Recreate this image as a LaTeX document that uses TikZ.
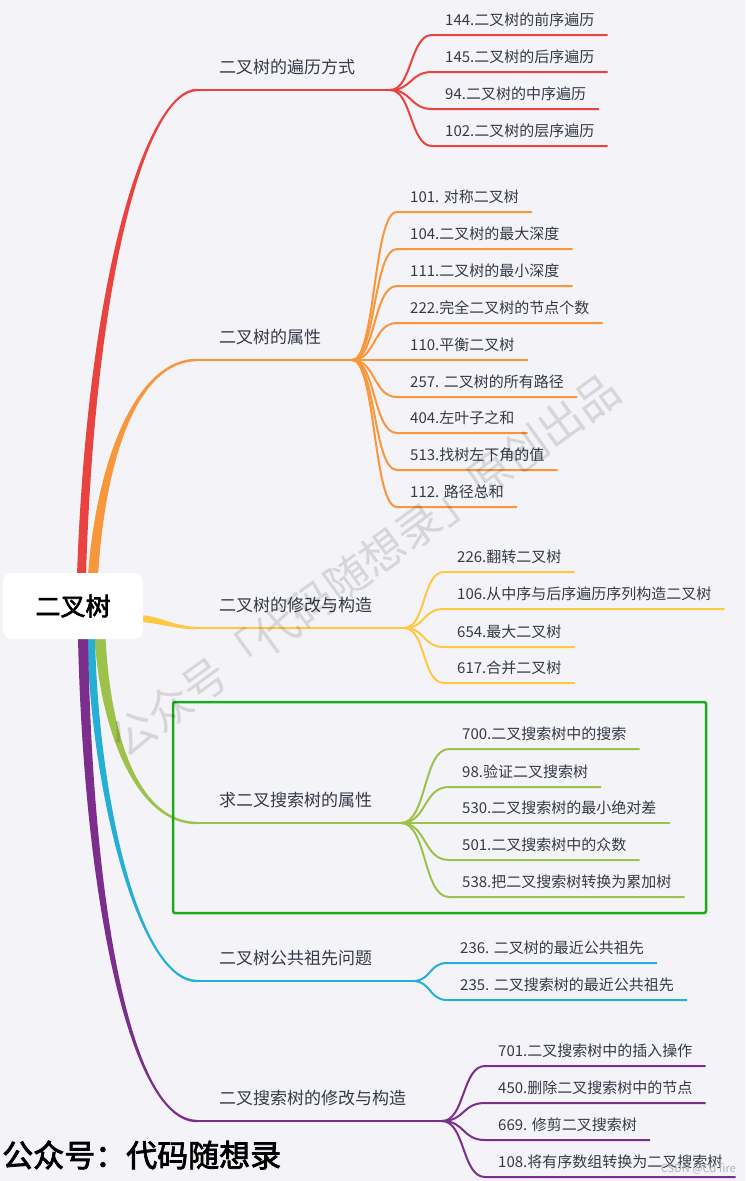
\documentclass[tikz,border=0pt]{standalone}
\usepackage{fontspec}
\setmainfont{Noto Sans CJK SC}
\newfontfamily\heavy{Noto Sans CJK SC}[FakeBold=2.5]
\usetikzlibrary{calc}

\definecolor{bgcol}{HTML}{F4F4F8}
\definecolor{txt}{HTML}{343A46}
\definecolor{cred}{HTML}{E8433E}
\definecolor{corange}{HTML}{F7963B}
\definecolor{cyellow}{HTML}{FFC843}
\definecolor{cgreen}{HTML}{9DC24B}
\definecolor{ccyan}{HTML}{26AFD5}
\definecolor{cpurple}{HTML}{7B2E8C}
\definecolor{boxgreen}{HTML}{1DAA1D}

\pgfdeclarelayer{bg}
\pgfsetlayers{bg,main}

% tapered main branch: colour, start, control 1, control 2, end, half width, side
\newcommand\trunk[7]{%
  \fill[#1] ($(#2)+(-#6,0)$) .. controls ($(#3)+(-0.85*#6,0)$) and ($(#4)+(0,-1.6*#7)$) .. ($(#5)+(0,-1.2*#7)$)
    -- ($(#5)+(0,1.2*#7)$) .. controls ($(#4)+(0,1.6*#7)$) and ($(#3)+(0.85*#6,0)$) .. ($(#2)+(#6,0)$) -- cycle;}

\begin{document}
\begin{tikzpicture}[x=1pt,y=-1pt,
    rootbox/.style={fill=white, rounded corners=9pt, minimum width=140pt, minimum height=66pt,
      font=\heavy\fontsize{25}{25}\selectfont, text=black},
    branch/.style={anchor=south west, inner xsep=22pt, inner ysep=14pt, text height=14pt,
      text depth=2pt, text=txt, font=\fontsize{17}{17}\selectfont},
    leaf/.style={anchor=south west, inner xsep=13pt, inner ysep=7pt, text height=12pt,
      text depth=2pt, text=txt, font=\fontsize{15}{15}\selectfont},
    twig/.style={line width=2pt},
    stem/.style={line width=2.4pt}]
	\useasboundingbox (0,0) rectangle (745,1181);
	\node[rootbox] (root) at (73,606) {二叉树};
	% first level
	\node[branch] (b1) at (197,90) {二叉树的遍历方式};
	\node[branch] (b2) at (197,360) {二叉树的属性};
	\node[branch] (b3) at (197,628) {二叉树的修改与构造};
	\node[branch] (b4) at (197,823) {求二叉搜索树的属性};
	\node[branch] (b5) at (197,981) {二叉树公共祖先问题};
	\node[branch] (b6) at (197,1121) {二叉搜索树的修改与构造};
	\coordinate (h1) at (390,90);
	\coordinate (h2) at (352,360);
	\coordinate (h3) at (404,628);
	\coordinate (h4) at (401,823);
	\coordinate (h5) at (413,981);
	\coordinate (h6) at (442,1121);
	\begin{pgfonlayer}{bg}
		\fill[bgcol] (0,0) rectangle (745,1181);
		\trunk{cgreen}{$(root.south)+(27,-2)$}{106,740}{140,823}{b4.south west}{5.5}{-1}
		\trunk{ccyan}{$(root.south)+(18,-2)$}{95,800}{140,981}{b5.south west}{4}{-1}
		\trunk{cpurple}{$(root.south)+(10,-2)$}{88,900}{130,1121}{b6.south west}{5}{-1}
		\trunk{corange}{$(root.north)+(20,2)$}{102,450}{140,360}{b2.south west}{5}{1}
		\trunk{cred}{$(root.north)+(8.5,2)$}{92,260}{150,90}{b1.south west}{4.5}{1}
		\fill[cyellow] ($(root.east)+(-3,9)$) .. controls (160,616) and (175,626.8) .. ($(b3.south west)+(0,-1.2)$)
			-- ($(b3.south west)+(0,1.2)$) .. controls (175,629.5) and (160,623) .. ($(root.east)+(-3,16)$) -- cycle;
	\end{pgfonlayer}
	\draw[stem, cred] (b1.south west) -- (h1);
	\draw[stem, corange] (b2.south west) -- (h2);
	\draw[stem, cyellow] (b3.south west) -- (h3);
	\draw[stem, cgreen] (b4.south west) -- (h4);
	\draw[stem, ccyan] (b5.south west) -- (h5);
	\draw[stem, cpurple] (b6.south west) -- (h6);
	% traversal
	\node[leaf] (l11) at (432,35) {144.二叉树的前序遍历};
	\node[leaf] (l12) at (432,72) {145.二叉树的后序遍历};
	\node[leaf] (l13) at (432,109) {94.二叉树的中序遍历};
	\node[leaf] (l14) at (432,146) {102.二叉树的层序遍历};
	\draw[twig, cred] (h1) .. controls +(22,0) and +(-22,0) .. (l11.south west) -- (l11.south east);
	\draw[twig, cred] (h1) .. controls +(22,0) and +(-22,0) .. (l12.south west) -- (l12.south east);
	\draw[twig, cred] (h1) .. controls +(22,0) and +(-22,0) .. (l13.south west) -- (l13.south east);
	\draw[twig, cred] (h1) .. controls +(22,0) and +(-22,0) .. (l14.south west) -- (l14.south east);
	% properties
	\node[leaf] (l21) at (397,212) {101. 对称二叉树};
	\node[leaf] (l22) at (397,249) {104.二叉树的最大深度};
	\node[leaf] (l23) at (397,286) {111.二叉树的最小深度};
	\node[leaf] (l24) at (397,323) {222.完全二叉树的节点个数};
	\node[leaf] (l25) at (397,360) {110.平衡二叉树};
	\node[leaf] (l26) at (397,397) {257. 二叉树的所有路径};
	\node[leaf] (l27) at (397,433) {404.左叶子之和};
	\node[leaf] (l28) at (397,470) {513.找树左下角的值};
	\node[leaf] (l29) at (397,507) {112. 路径总和};
	\draw[twig, corange] (h2) .. controls +(24,0) and +(-24,0) .. (l21.south west) -- (l21.south east);
	\draw[twig, corange] (h2) .. controls +(24,0) and +(-24,0) .. (l22.south west) -- (l22.south east);
	\draw[twig, corange] (h2) .. controls +(24,0) and +(-24,0) .. (l23.south west) -- (l23.south east);
	\draw[twig, corange] (h2) .. controls +(24,0) and +(-24,0) .. (l24.south west) -- (l24.south east);
	\draw[twig, corange] (h2) -- (l25.south west) -- (l25.south east);
	\draw[twig, corange] (h2) .. controls +(24,0) and +(-24,0) .. (l26.south west) -- (l26.south east);
	\draw[twig, corange] (h2) .. controls +(24,0) and +(-24,0) .. (l27.south west) -- (l27.south east);
	\draw[twig, corange] (h2) .. controls +(24,0) and +(-24,0) .. (l28.south west) -- (l28.south east);
	\draw[twig, corange] (h2) .. controls +(24,0) and +(-24,0) .. (l29.south west) -- (l29.south east);
	% modify and build
	\node[leaf] (l31) at (444,572) {226.翻转二叉树};
	\node[leaf] (l32) at (444,609) {106.从中序与后序遍历序列构造二叉树};
	\node[leaf] (l33) at (444,647) {654.最大二叉树};
	\node[leaf] (l34) at (444,683) {617.合并二叉树};
	\draw[twig, cyellow] (h3) .. controls +(22,0) and +(-22,0) .. (l31.south west) -- (l31.south east);
	\draw[twig, cyellow] (h3) .. controls +(22,0) and +(-22,0) .. (l32.south west) -- (l32.south east);
	\draw[twig, cyellow] (h3) .. controls +(22,0) and +(-22,0) .. (l33.south west) -- (l33.south east);
	\draw[twig, cyellow] (h3) .. controls +(22,0) and +(-22,0) .. (l34.south west) -- (l34.south east);
	% search tree properties
	\draw[boxgreen, line width=2.5pt, rounded corners=2pt] (173,702) rectangle (706,913);
	\node[leaf] (l41) at (449,749) {700.二叉搜索树中的搜索};
	\node[leaf] (l42) at (449,787) {98.验证二叉搜索树};
	\node[leaf] (l43) at (449,823) {530.二叉搜索树的最小绝对差};
	\node[leaf] (l44) at (449,860) {501.二叉搜索树中的众数};
	\node[leaf] (l45) at (449,897) {538.把二叉搜索树转换为累加树};
	\draw[twig, cgreen] (h4) .. controls +(26,0) and +(-26,0) .. (l41.south west) -- (l41.south east);
	\draw[twig, cgreen] (h4) .. controls +(26,0) and +(-26,0) .. (l42.south west) -- (l42.south east);
	\draw[twig, cgreen] (h4) -- (l43.south west) -- (l43.south east);
	\draw[twig, cgreen] (h4) .. controls +(26,0) and +(-26,0) .. (l44.south west) -- (l44.south east);
	\draw[twig, cgreen] (h4) .. controls +(26,0) and +(-26,0) .. (l45.south west) -- (l45.south east);
	% ancestors
	\node[leaf] (l51) at (447,963) {236. 二叉树的最近公共祖先};
	\node[leaf] (l52) at (447,1000) {235. 二叉搜索树的最近公共祖先};
	\draw[twig, ccyan] (h5) .. controls +(18,0) and +(-18,0) .. (l51.south west) -- (l51.south east);
	\draw[twig, ccyan] (h5) .. controls +(18,0) and +(-18,0) .. (l52.south west) -- (l52.south east);
	% modify search tree
	\node[leaf] (l61) at (485,1066) {701.二叉搜索树中的插入操作};
	\node[leaf] (l62) at (485,1103) {450.删除二叉搜索树中的节点};
	\node[leaf] (l63) at (485,1140) {669. 修剪二叉搜索树};
	\node[leaf] (l64) at (485,1177) {108.将有序数组转换为二叉搜索树};
	\draw[twig, cpurple] (h6) .. controls +(23,0) and +(-23,0) .. (l61.south west) -- (l61.south east);
	\draw[twig, cpurple] (h6) .. controls +(23,0) and +(-23,0) .. (l62.south west) -- (l62.south east);
	\draw[twig, cpurple] (h6) .. controls +(23,0) and +(-23,0) .. (l63.south west) -- (l63.south east);
	\draw[twig, cpurple] (h6) .. controls +(23,0) and +(-23,0) .. (l64.south west) -- (l64.south east);
	% marks
	\node[rotate=36, text=black, opacity=0.12, font=\fontsize{44}{44}\selectfont] (wm) at (365,565) {公众号「代码随想录」原创出品};
	\node[anchor=west, inner sep=0pt, text=black, font=\heavy\fontsize{31}{31}\selectfont] (sign) at (2,1155) {公众号：代码随想录};
	\node[anchor=east, inner sep=0pt, text=black!30, font=\fontsize{11}{11}\selectfont] (csdn) at (736,1169) {CSDN @Cd fire};
\end{tikzpicture}
\end{document}
